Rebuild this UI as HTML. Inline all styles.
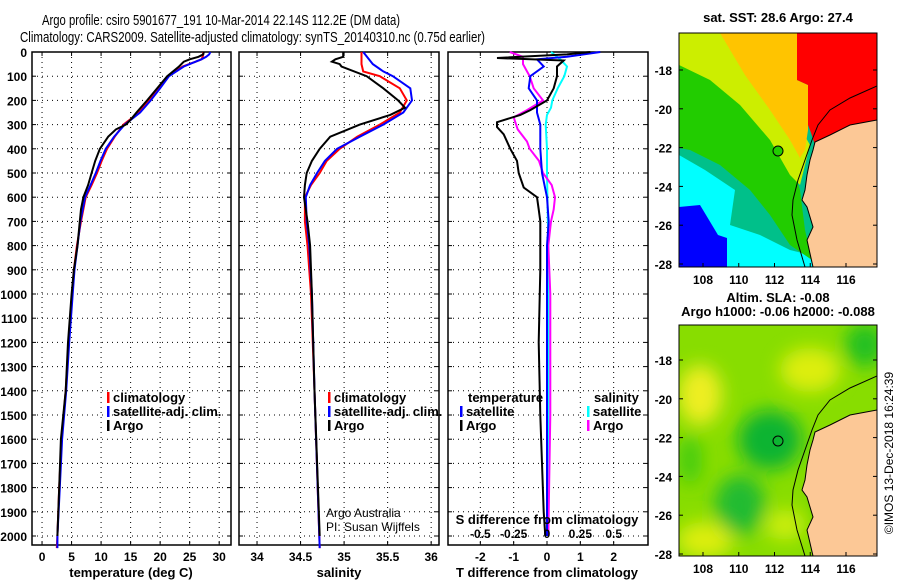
<!DOCTYPE html>
<html><head><meta charset="utf-8">
<style>
html,body{margin:0;padding:0;background:#fff;}
svg{display:block;font-family:"Liberation Sans",sans-serif;}
.tk{font-size:12px;font-weight:bold;fill:#000;}
.lab{font-size:13px;font-weight:bold;fill:#000;}
.ttl{font-size:15px;fill:#000;font-family:"Liberation Sans Narrow","Liberation Sans",sans-serif;}
.grid{stroke:#000;stroke-width:1;stroke-dasharray:1,4;}
</style></head>
<body>
<svg id="fig" width="900" height="580" viewBox="0 0 900 580">
<text class="ttl" x="42" y="25" textLength="358" lengthAdjust="spacingAndGlyphs">Argo profile: csiro 5901677_191 10-Mar-2014 22.14S 112.2E (DM data)</text>
<text class="ttl" x="20" y="42" textLength="465" lengthAdjust="spacingAndGlyphs">Climatology: CARS2009. Satellite-adjusted climatology: synTS_20140310.nc (0.75d earlier)</text>
<g id="panels"></g>

<defs>
<clipPath id="c1"><rect x="679" y="33" width="198" height="234"/></clipPath>
<clipPath id="c2"><rect x="679" y="325" width="198" height="231"/></clipPath>
<filter id="bl" x="-50%" y="-50%" width="200%" height="200%"><feGaussianBlur stdDeviation="9"/></filter>
</defs>
<text class="lab" x="778" y="22" text-anchor="middle">sat. SST: 28.6 Argo: 27.4</text>
<g clip-path="url(#c1)">
<rect x="679" y="33" width="198" height="234" fill="#00c08a"/>
<polygon fill="#00ffff" points="679,155 705,170 735,190 730,225 760,235 790,250 810,255 815,267 679,267"/>
<polygon fill="#0000ff" points="679,207 700,205 718,235 727,238 727,267 679,267"/>
<polygon fill="#22cc00" points="679,60 720,75 745,100 770,130 790,160 800,190 805,230 812,260 790,245 770,215 750,190 720,165 690,150 679,148"/>
<polygon fill="#ccee00" points="679,33 720,33 760,75 790,110 810,145 800,185 790,175 770,140 740,105 710,80 679,65"/>
<polygon fill="#ffc400" points="720,33 797,33 797,80 808,85 808,130 805,150 800,158 790,140 770,110 745,75"/>
<polygon fill="#ff0000" points="797,33 877,33 877,125 815,145 810,130 808,125 808,85 797,80"/>
<polygon fill="#fcc896" stroke="#000" stroke-width="1" points="877,120 850,125 830,135 815,142 813,150 810,160 807,175 805,190 802,200 807,207 813,227 807,240 813,267 877,267"/>
<polyline fill="none" stroke="#000" stroke-width="1" points="877,86 850,98 830,110 818,125 812,140 805,160 798,180 793,200 792,215 797,240 805,267"/>
<circle cx="778" cy="151" r="5" fill="#22cc00" stroke="#000"/>
</g>
<rect x="679" y="33" width="198" height="234" fill="none" stroke="#000"/>
<text class="lab" x="778" y="302" text-anchor="middle">Altim. SLA: -0.08</text>
<text class="lab" x="778" y="316" text-anchor="middle">Argo h1000: -0.06 h2000: -0.088</text>
<g clip-path="url(#c2)">
<rect x="679" y="325" width="198" height="231" fill="#88dd00"/>
<g filter="url(#bl)">
<ellipse cx="700" cy="395" rx="22" ry="30" fill="#eeee20"/>
<ellipse cx="810" cy="370" rx="30" ry="22" fill="#ddee10"/>
<ellipse cx="705" cy="540" rx="28" ry="18" fill="#ddee10"/>
<ellipse cx="785" cy="525" rx="20" ry="15" fill="#ccee10"/>
<ellipse cx="770" cy="440" rx="32" ry="30" fill="#11b430"/>
<ellipse cx="740" cy="505" rx="25" ry="30" fill="#22bb30"/>
<ellipse cx="865" cy="345" rx="20" ry="22" fill="#22c020"/>
<ellipse cx="690" cy="460" rx="12" ry="25" fill="#44cc10"/>
<ellipse cx="830" cy="500" rx="15" ry="40" fill="#44cc10"/>
</g>
<polygon fill="#fcc896" stroke="#000" stroke-width="1" points="877,410 850,415 830,425 815,432 813,440 810,450 807,465 805,480 802,490 807,497 813,517 807,530 813,556 877,556"/>
<polyline fill="none" stroke="#000" stroke-width="1" points="877,376 850,388 830,400 818,415 812,430 805,450 798,470 793,490 792,505 797,530 805,556"/>
<circle cx="778" cy="441" r="5" fill="none" stroke="#000"/>
</g>
<rect x="679" y="325" width="198" height="231" fill="none" stroke="#000"/>
<g id="maptk"></g>
<text x="893" y="453" font-size="12" fill="#000" text-anchor="middle" transform="rotate(-90 893 453)">©IMOS 13-Dec-2018 16:24:39</text>
</svg>
<script>
// ---- data ----
var depthTicks = [0,100,200,300,400,500,600,700,800,900,1000,1100,1200,1300,1400,1500,1600,1700,1800,1900,2000];
var tempTicks = [0,5,10,15,20,25,30];
var salTicks = [34,34.5,35,35.5,36];
var salTickLabels = ["34","34.5","35","35.5","36"];
var tdTicks = [-2,-1,0,1,2];
var sdTicks = [-0.5,-0.25,0,0.25,0.5];
var sdTickLabels = ["-0.5","-0.25","0","0.25","0.5"];

var tArgoDepth = [0,10,20,30,40,60,100,150,200,250,280,300,320,350,400,450,500,550,600,650,700,800,900,1000,1100,1200,1400,1600,1800,2000];
var tArgo      = [27.4,27.3,26.5,25,24,23.2,21.2,19.5,17.8,16,15,14.2,12.5,11.2,9.8,9,8.4,7.8,7.0,6.6,6.4,6.0,5.4,5.0,4.7,4.4,4.0,3.2,2.9,2.6];
var tClimDepth = [0,10,20,30,40,60,100,150,200,250,300,350,400,450,500,550,600,700,800,900,1000,1200,1400,1600,1800,2000,2050];
var tClim      = [27.3,27.3,27.2,27,26,23.8,21.3,19.6,18,16.4,13.8,12.3,11,10.1,9.3,8.4,7.4,6.6,5.9,5.4,5.1,4.5,4.0,3.3,2.9,2.6,2.5];
var tSat       = [28.5,28.3,27.8,27,26,24,21.5,20,18.4,16.6,14.0,12.2,10.8,9.9,9.1,8.2,7.3,6.5,6.0,5.5,5.2,4.6,4.1,3.4,3.0,2.6,2.6];

var sArgoDepth = [0,20,30,40,50,60,100,150,200,230,260,300,350,400,450,500,550,600,700,800,1000,1400,2000];
var sArgo      = [34.99,34.99,34.9,34.86,34.95,34.97,35.26,35.45,35.62,35.70,35.53,35.18,34.84,34.72,34.63,34.57,34.55,34.54,34.58,34.61,34.63,34.66,34.72];
var sClimDepth = [0,50,80,100,150,200,250,300,350,400,450,500,550,600,700,800,1000,1400,2050];
var sClim      = [35.2,35.2,35.22,35.41,35.64,35.72,35.64,35.41,35.15,34.95,34.80,34.72,34.62,34.55,34.55,34.58,34.62,34.66,34.72];
var sSat       = [35.22,35.33,35.45,35.56,35.76,35.78,35.68,35.45,35.18,34.92,34.78,34.69,34.61,34.56,34.57,34.60,34.63,34.66,34.72];

var tdDepth = [0,10,25,35,60,100,150,200,240,260,290,310,340,400,450,500,560,600,650,700,900,1200,1500,1700,1900,2000];
var tdArgo  = [1.3,0.6,-1.5,0.5,0.3,0.3,0.2,0,-0.5,-0.8,-1.5,-1.5,-1.3,-1.1,-0.9,-0.85,-0.7,-0.3,-0.25,-0.2,-0.2,-0.25,-0.2,-0.15,-0.1,-0.05];
var tdSatDepth = [0,20,30,60,100,150,200,250,300,400,500,600,700,800,2000];
var tdSat      = [1.6,0.6,-0.3,-0.1,-0.5,-0.55,-0.3,-0.3,-0.2,-0.2,-0.15,0,0.05,0,0];
var sdDepth = [0,20,50,80,100,150,200,240,270,320,370,400,450,500,550,600,650,700,800,1000,1500,2000];
var sdArgo  = [-0.28,-0.18,-0.18,-0.15,-0.13,-0.1,-0.03,-0.15,-0.25,-0.22,-0.15,-0.13,-0.06,-0.03,0.035,0.06,0.05,0.03,0.01,0.025,0.025,0.01];
var sdSatDepth = [0,30,60,100,150,200,230,260,300,400,500,800,1000,2000];
var sdSat      = [0.03,0.1,0.15,0.13,0.08,0.04,0.03,0,-0.01,0,0,0.01,0.01,0.01];

var latTicks = [-18,-20,-22,-24,-26,-28];
var lonTicks = [108,110,112,114,116];

// ---- drawing ----
var NS='http://www.w3.org/2000/svg';
var fig=document.getElementById('panels');
function mk(tag,at,parent){var e=document.createElementNS(NS,tag);for(var k in at)e.setAttribute(k,at[k]);(parent||fig).appendChild(e);return e;}
var Y0=52, PX100=24.2;
function yD(d){return Y0+d*PX100/100;}
var YB=545;
var panels=[
 {x0:32,x1:231,v0:-1.7,v1:32},
 {x0:239,x1:439,v0:33.793,v1:36.09},
 {x0:448,x1:648,v0:-2.97,v1:3.03}
];
function sx(p,v){return p.x0+(v-p.v0)/(p.v1-p.v0)*(p.x1-p.x0);}
function sxS(v){var p=panels[2];return sx(p,v*4);}

function frame(p,i,ticks,labels,name){
  var g=mk('g',{});
  
  
  depthTicks.forEach(function(d){
    var l=mk('line',{x1:p.x0,x2:p.x1,y1:yD(d),y2:yD(d),'class':'grid'},g);
    
    
    mk('line',{x1:p.x0,x2:p.x0+4,y1:yD(d),y2:yD(d),stroke:'#000'},g);
    mk('line',{x1:p.x1,x2:p.x1-4,y1:yD(d),y2:yD(d),stroke:'#000'},g);
  });
  ticks.forEach(function(v,j){
    var x=sx(p,v);
    var l=mk('line',{x1:x,x2:x,y1:Y0,y2:YB,'class':'grid'},g);
    
    
    mk('line',{x1:x,x2:x,y1:YB,y2:YB-4,stroke:'#000'},g);
    mk('line',{x1:x,x2:x,y1:Y0,y2:Y0+4,stroke:'#000'},g);
    var t=mk('text',{x:x,y:YB+16,'class':'tk','text-anchor':'middle'},g);
    t.textContent=labels[j];
    
    
  });
  mk('rect',{x:p.x0,y:Y0,width:p.x1-p.x0,height:YB-Y0,fill:'none',stroke:'#000','stroke-width':1.5},g);
  return g;
}
function line(xs,ds,fn,color,name,g){
  var pts=xs.map(function(v,k){return fn(v).toFixed(1)+','+yD(ds[k]).toFixed(1);}).join(' ');
  var e=mk('polyline',{points:pts,fill:'none',stroke:color,'stroke-width':2},g);
  
  
}
function txt(x,y,s,cls,anchor,name){
  var t=mk('text',{x:x,y:y,'class':cls,'text-anchor':anchor||'start'});
  t.textContent=s;
  
  
  return t;
}
function legend(x,y,color,s,name){
  var r=mk('rect',{x:x,y:y-10,width:2.5,height:11,fill:color});
  
  
  txt(x+6,y,s,'lab','start',name);
}

depthTicks.forEach(function(d){
  txt(27,yD(d)+5,String(d),'tk','end','y-tick-label');
});

var p1=panels[0];
var g1=frame(p1,0,tempTicks,tempTicks.map(String),'temperature-panel');
line(tClim,tClimDepth,function(v){return sx(p1,v);},'#ff0000','temp-climatology-line',g1);
line(tSat,tClimDepth,function(v){return sx(p1,v);},'#0000ff','temp-satellite-line',g1);
line(tArgo,tArgoDepth,function(v){return sx(p1,v);},'#000000','temp-argo-line',g1);
txt(131,577,'temperature (deg C)','lab','middle','temperature-axis-title');
legend(107,402,'#ff0000','climatology','legend-climatology');
legend(107,416,'#0000ff','satellite-adj. clim.','legend-satellite-adj');
legend(107,430,'#000','Argo','legend-argo');

var p2=panels[1];
var g2=frame(p2,1,salTicks,salTickLabels,'salinity-panel');
line(sClim,sClimDepth,function(v){return sx(p2,v);},'#ff0000','sal-climatology-line',g2);
line(sSat,sClimDepth,function(v){return sx(p2,v);},'#0000ff','sal-satellite-line',g2);
line(sArgo,sArgoDepth,function(v){return sx(p2,v);},'#000000','sal-argo-line',g2);
txt(339,577,'salinity','lab','middle','salinity-axis-title');
legend(328,402,'#ff0000','climatology','legend2-climatology');
legend(328,416,'#0000ff','satellite-adj. clim.','legend2-satellite-adj');
legend(328,430,'#000','Argo','legend2-argo');
var c1=txt(326,517,'Argo Australia','tk','start','credit-argo-australia');c1.style.fontWeight='normal';
var c2=txt(326,531,'PI: Susan Wijffels','tk','start','credit-pi');c2.style.fontWeight='normal';

var p3=panels[2];
var g3=frame(p3,2,tdTicks,tdTicks.map(String),'difference-panel');
line(sdSat,sdSatDepth,sxS,'#00ffff','sal-diff-satellite-line',g3);
line(sdArgo,sdDepth,sxS,'#ff00ff','sal-diff-argo-line',g3);
line(tdSat,tdSatDepth,function(v){return sx(p3,v);},'#0000ff','temp-diff-satellite-line',g3);
line(tdArgo,tdDepth,function(v){return sx(p3,v);},'#000000','temp-diff-argo-line',g3);
txt(547,577,'T difference from climatology','lab','middle','t-diff-axis-title');
txt(547,524,'S difference from climatology','lab','middle','s-diff-axis-title');
sdTicks.forEach(function(v,j){txt(sxS(v),538,sdTickLabels[j],'tk','middle','s-diff-tick-label');});
txt(468,402,'temperature','lab','start','legend3-temperature-header');
legend(460,416,'#0000ff','satellite','legend3-temp-satellite');
legend(460,430,'#000','Argo','legend3-temp-argo');
txt(594,402,'salinity','lab','start','legend3-salinity-header');
legend(587,416,'#00ffff','satellite','legend3-sal-satellite');
legend(587,430,'#ff00ff','Argo','legend3-sal-argo');

var mt=document.getElementById('maptk');
function lonX(l){return 703+(l-108)*17.875;}
[[70,'sst'],[360,'sla']].forEach(function(m){
  var base=m[0], bottom=(m[1]==='sst')?267:556;
  latTicks.forEach(function(la){
    var y=base+(-18-la)*19.4;
    var t=mk('text',{x:672,y:y+5,'class':'tk','text-anchor':'end'},mt);
    t.textContent=String(la);
    
    
    mk('line',{x1:679,x2:683,y1:y,y2:y,stroke:'#000'},mt);
    mk('line',{x1:877,x2:873,y1:y,y2:y,stroke:'#000'},mt);
  });
  lonTicks.forEach(function(lo){
    var x=lonX(lo);
    var t=mk('text',{x:x,y:bottom+17,'class':'tk','text-anchor':'middle'},mt);
    t.textContent=String(lo);
    
    
    mk('line',{x1:x,x2:x,y1:bottom,y2:bottom-4,stroke:'#000'},mt);
  });
});
</script>
</body></html>
